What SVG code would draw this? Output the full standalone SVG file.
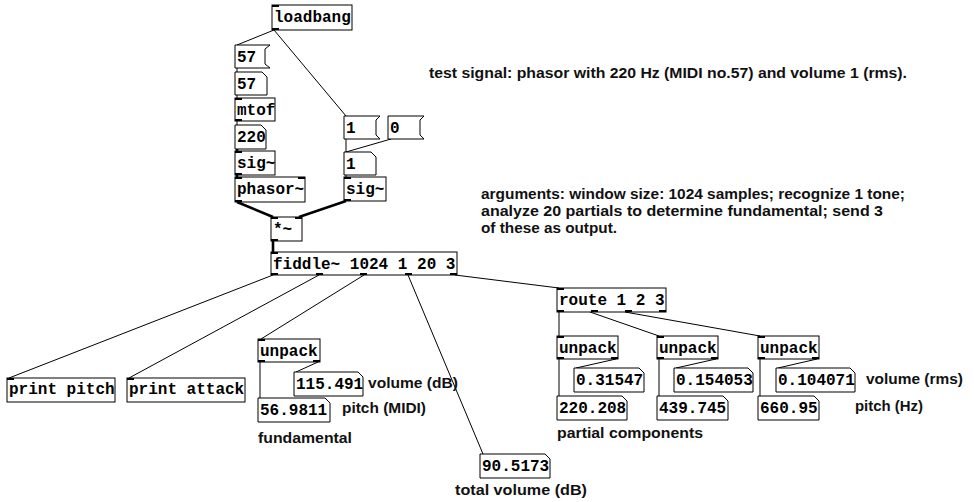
<svg xmlns="http://www.w3.org/2000/svg" width="974" height="502" viewBox="0 0 974 502">
<style>
.b{fill:#fff;stroke:#000;stroke-width:1}
.t{font-family:"Liberation Mono","Courier New",monospace;font-weight:bold;font-size:16px;fill:#000}
.l{font-family:"Liberation Sans",Arial,sans-serif;font-weight:bold;font-size:15px;fill:#111}
.c{stroke:#000;stroke-width:1;fill:none}
.s{stroke:#000;stroke-width:2.6;fill:none}
.io{fill:#000}
</style>
<rect width="974" height="502" fill="#fff"/>
<g id="connectors">
<line class="c" x1="274" y1="30" x2="237" y2="45"/>
<line class="c" x1="274" y1="30" x2="346" y2="116"/>
<line class="c" x1="237" y1="68" x2="237" y2="72"/>
<line class="c" x1="237" y1="95" x2="237" y2="98"/>
<line class="c" x1="237" y1="121" x2="237" y2="125"/>
<line class="s" x1="237" y1="149" x2="237" y2="151"/>
<line class="s" x1="237" y1="175" x2="237" y2="177"/>
<line class="s" x1="237" y1="202" x2="273" y2="217"/>
<line class="s" x1="346" y1="201" x2="299" y2="217"/>
<line class="s" x1="273" y1="241" x2="273" y2="252"/>
<line class="c" x1="346" y1="139" x2="346" y2="152"/>
<line class="c" x1="391" y1="139" x2="346" y2="152"/>
<line class="c" x1="346" y1="175" x2="346" y2="177"/>
<line class="c" x1="273" y1="275" x2="9" y2="378"/>
<line class="c" x1="319" y1="275" x2="129" y2="378"/>
<line class="c" x1="364" y1="275" x2="261" y2="339"/>
<line class="c" x1="408" y1="275" x2="483" y2="454"/>
<line class="c" x1="455" y1="275" x2="559" y2="288"/>
<line class="c" x1="260" y1="362" x2="260" y2="398"/>
<line class="c" x1="318" y1="362" x2="296" y2="372"/>
<line class="c" x1="559" y1="312" x2="559" y2="336"/>
<line class="c" x1="590" y1="312" x2="659" y2="336"/>
<line class="c" x1="625" y1="312" x2="760" y2="336"/>
<line class="c" x1="559" y1="359" x2="559" y2="396"/>
<line class="c" x1="616" y1="359" x2="576" y2="368"/>
<line class="c" x1="659" y1="359" x2="659" y2="396"/>
<line class="c" x1="716" y1="359" x2="676" y2="368"/>
<line class="c" x1="760" y1="359" x2="760" y2="396"/>
<line class="c" x1="817" y1="359" x2="778" y2="368"/>
</g>
<g id="loadbang"><rect class="b" x="272" y="5" width="80" height="25"/><text class="t" x="274" y="22">loadbang</text><rect class="io" x="272" y="5" width="7" height="2"/><rect class="io" x="272" y="28" width="7" height="2"/></g>
<g id="msg57"><path class="b" d="M235,45H270L265,49V64L270,68H235Z"/><text class="t" x="237" y="62">57</text></g>
<g id="num57"><path class="b" d="M235,72H262L267,77V95H235Z"/><text class="t" x="237" y="89">57</text></g>
<g id="mtof"><rect class="b" x="235" y="98" width="40" height="23"/><text class="t" x="237" y="115">mtof</text><rect class="io" x="235" y="98" width="7" height="2"/><rect class="io" x="235" y="119" width="7" height="2"/></g>
<g id="num220"><path class="b" d="M235,125H261L266,130V149H235Z"/><text class="t" x="237" y="142">220</text></g>
<g id="sigL"><rect class="b" x="235" y="151" width="40" height="24"/><text class="t" x="237" y="168">sig~</text><rect class="io" x="235" y="151" width="7" height="2"/><rect class="io" x="235" y="173" width="7" height="2"/></g>
<g id="phasor"><rect class="b" x="235" y="177" width="70" height="25"/><text class="t" x="237" y="194">phasor~</text><rect class="io" x="235" y="177" width="7" height="2"/><rect class="io" x="298" y="177" width="7" height="2"/><rect class="io" x="235" y="200" width="7" height="2"/></g>
<g id="msg1"><path class="b" d="M344,116H380L376,120V135L380,139H344Z"/><text class="t" x="346" y="133">1</text></g>
<g id="msg0"><path class="b" d="M388,116H424L420,120V135L424,139H388Z"/><text class="t" x="390" y="133">0</text></g>
<g id="num1"><path class="b" d="M344,152H371L376,157V175H344Z"/><text class="t" x="346" y="169">1</text></g>
<g id="sigR"><rect class="b" x="344" y="177" width="42" height="24"/><text class="t" x="346" y="194">sig~</text><rect class="io" x="344" y="177" width="7" height="2"/><rect class="io" x="344" y="199" width="7" height="2"/></g>
<g id="mul"><rect class="b" x="271" y="217" width="31" height="24"/><text class="t" x="273" y="234">*~</text><rect class="io" x="271" y="217" width="7" height="2"/><rect class="io" x="295" y="217" width="7" height="2"/><rect class="io" x="271" y="239" width="7" height="2"/></g>
<g id="fiddle"><rect class="b" x="271" y="252" width="186" height="23"/><text class="t" x="273" y="269">fiddle~ 1024 1 20 3</text><rect class="io" x="271" y="252" width="7" height="2"/><rect class="io" x="271" y="273" width="7" height="2"/><rect class="io" x="316" y="273" width="7" height="2"/><rect class="io" x="360" y="273" width="7" height="2"/><rect class="io" x="405" y="273" width="7" height="2"/><rect class="io" x="450" y="273" width="7" height="2"/></g>
<g id="printpitch"><rect class="b" x="7" y="378" width="108" height="24"/><text class="t" x="9" y="394">print pitch</text><rect class="io" x="7" y="378" width="7" height="2"/></g>
<g id="printattack"><rect class="b" x="127" y="378" width="118" height="24"/><text class="t" x="129" y="394">print attack</text><rect class="io" x="127" y="378" width="7" height="2"/></g>
<g id="unpackF"><rect class="b" x="258" y="339" width="62" height="23"/><text class="t" x="260" y="356">unpack</text><rect class="io" x="258" y="339" width="7" height="2"/><rect class="io" x="258" y="360" width="7" height="2"/><rect class="io" x="313" y="360" width="7" height="2"/></g>
<g id="num115"><path class="b" d="M294,372H358L363,377V396H294Z"/><text class="t" x="296" y="389">115.491</text></g>
<g id="num56"><path class="b" d="M258,398H325L330,403V422H258Z"/><text class="t" x="260" y="415">56.9811</text></g>
<g id="num90"><path class="b" d="M480,454H545L550,459V478H480Z"/><text class="t" x="482" y="471">90.5173</text></g>
<g id="route"><rect class="b" x="557" y="288" width="109" height="24"/><text class="t" x="559" y="305">route 1 2 3</text><rect class="io" x="557" y="288" width="7" height="2"/><rect class="io" x="557" y="310" width="7" height="2"/><rect class="io" x="591" y="310" width="7" height="2"/><rect class="io" x="625" y="310" width="7" height="2"/><rect class="io" x="659" y="310" width="7" height="2"/></g>
<g id="unpack1"><rect class="b" x="557" y="336" width="61" height="23"/><text class="t" x="559" y="353">unpack</text><rect class="io" x="557" y="336" width="7" height="2"/><rect class="io" x="557" y="357" width="7" height="2"/><rect class="io" x="611" y="357" width="7" height="2"/></g>
<g id="unpack2"><rect class="b" x="657" y="336" width="61" height="23"/><text class="t" x="659" y="353">unpack</text><rect class="io" x="657" y="336" width="7" height="2"/><rect class="io" x="657" y="357" width="7" height="2"/><rect class="io" x="711" y="357" width="7" height="2"/></g>
<g id="unpack3"><rect class="b" x="758" y="336" width="61" height="23"/><text class="t" x="760" y="353">unpack</text><rect class="io" x="758" y="336" width="7" height="2"/><rect class="io" x="758" y="357" width="7" height="2"/><rect class="io" x="812" y="357" width="7" height="2"/></g>
<g id="numA1"><path class="b" d="M574,368H639L644,373V392H574Z"/><text class="t" x="576" y="385">0.31547</text></g>
<g id="numA2"><path class="b" d="M674,368H748L753,373V392H674Z"/><text class="t" x="676" y="385">0.154053</text></g>
<g id="numA3"><path class="b" d="M776,368H850L855,373V392H776Z"/><text class="t" x="778" y="385">0.104071</text></g>
<g id="numP1"><path class="b" d="M557,396H622L627,401V420H557Z"/><text class="t" x="559" y="413">220.208</text></g>
<g id="numP2"><path class="b" d="M657,396H723L728,401V420H657Z"/><text class="t" x="659" y="413">439.745</text></g>
<g id="numP3"><path class="b" d="M758,396H814L819,401V420H758Z"/><text class="t" x="760" y="413">660.95</text></g>
<g id="comments">
<text class="l" x="429" y="78" textLength="478" lengthAdjust="spacingAndGlyphs">test signal: phasor with 220 Hz (MIDI no.57) and volume 1 (rms).</text>
<text class="l" x="481" y="199" textLength="424" lengthAdjust="spacingAndGlyphs">arguments: window size: 1024 samples; recognize 1 tone;</text>
<text class="l" x="481" y="216" textLength="402" lengthAdjust="spacingAndGlyphs">analyze 20 partials to determine fundamental; send 3</text>
<text class="l" x="481" y="233" textLength="136" lengthAdjust="spacingAndGlyphs">of these as output.</text>
<text class="l" x="368" y="388" textLength="90" lengthAdjust="spacingAndGlyphs">volume (dB)</text>
<text class="l" x="342" y="413" textLength="84" lengthAdjust="spacingAndGlyphs">pitch (MIDI)</text>
<text class="l" x="258" y="443" textLength="94" lengthAdjust="spacingAndGlyphs">fundamental</text>
<text class="l" x="455" y="495" textLength="132" lengthAdjust="spacingAndGlyphs">total volume (dB)</text>
<text class="l" x="866" y="384" textLength="97" lengthAdjust="spacingAndGlyphs">volume (rms)</text>
<text class="l" x="855" y="411" textLength="68" lengthAdjust="spacingAndGlyphs">pitch (Hz)</text>
<text class="l" x="557" y="438" textLength="146" lengthAdjust="spacingAndGlyphs">partial components</text>
</g>
</svg>
